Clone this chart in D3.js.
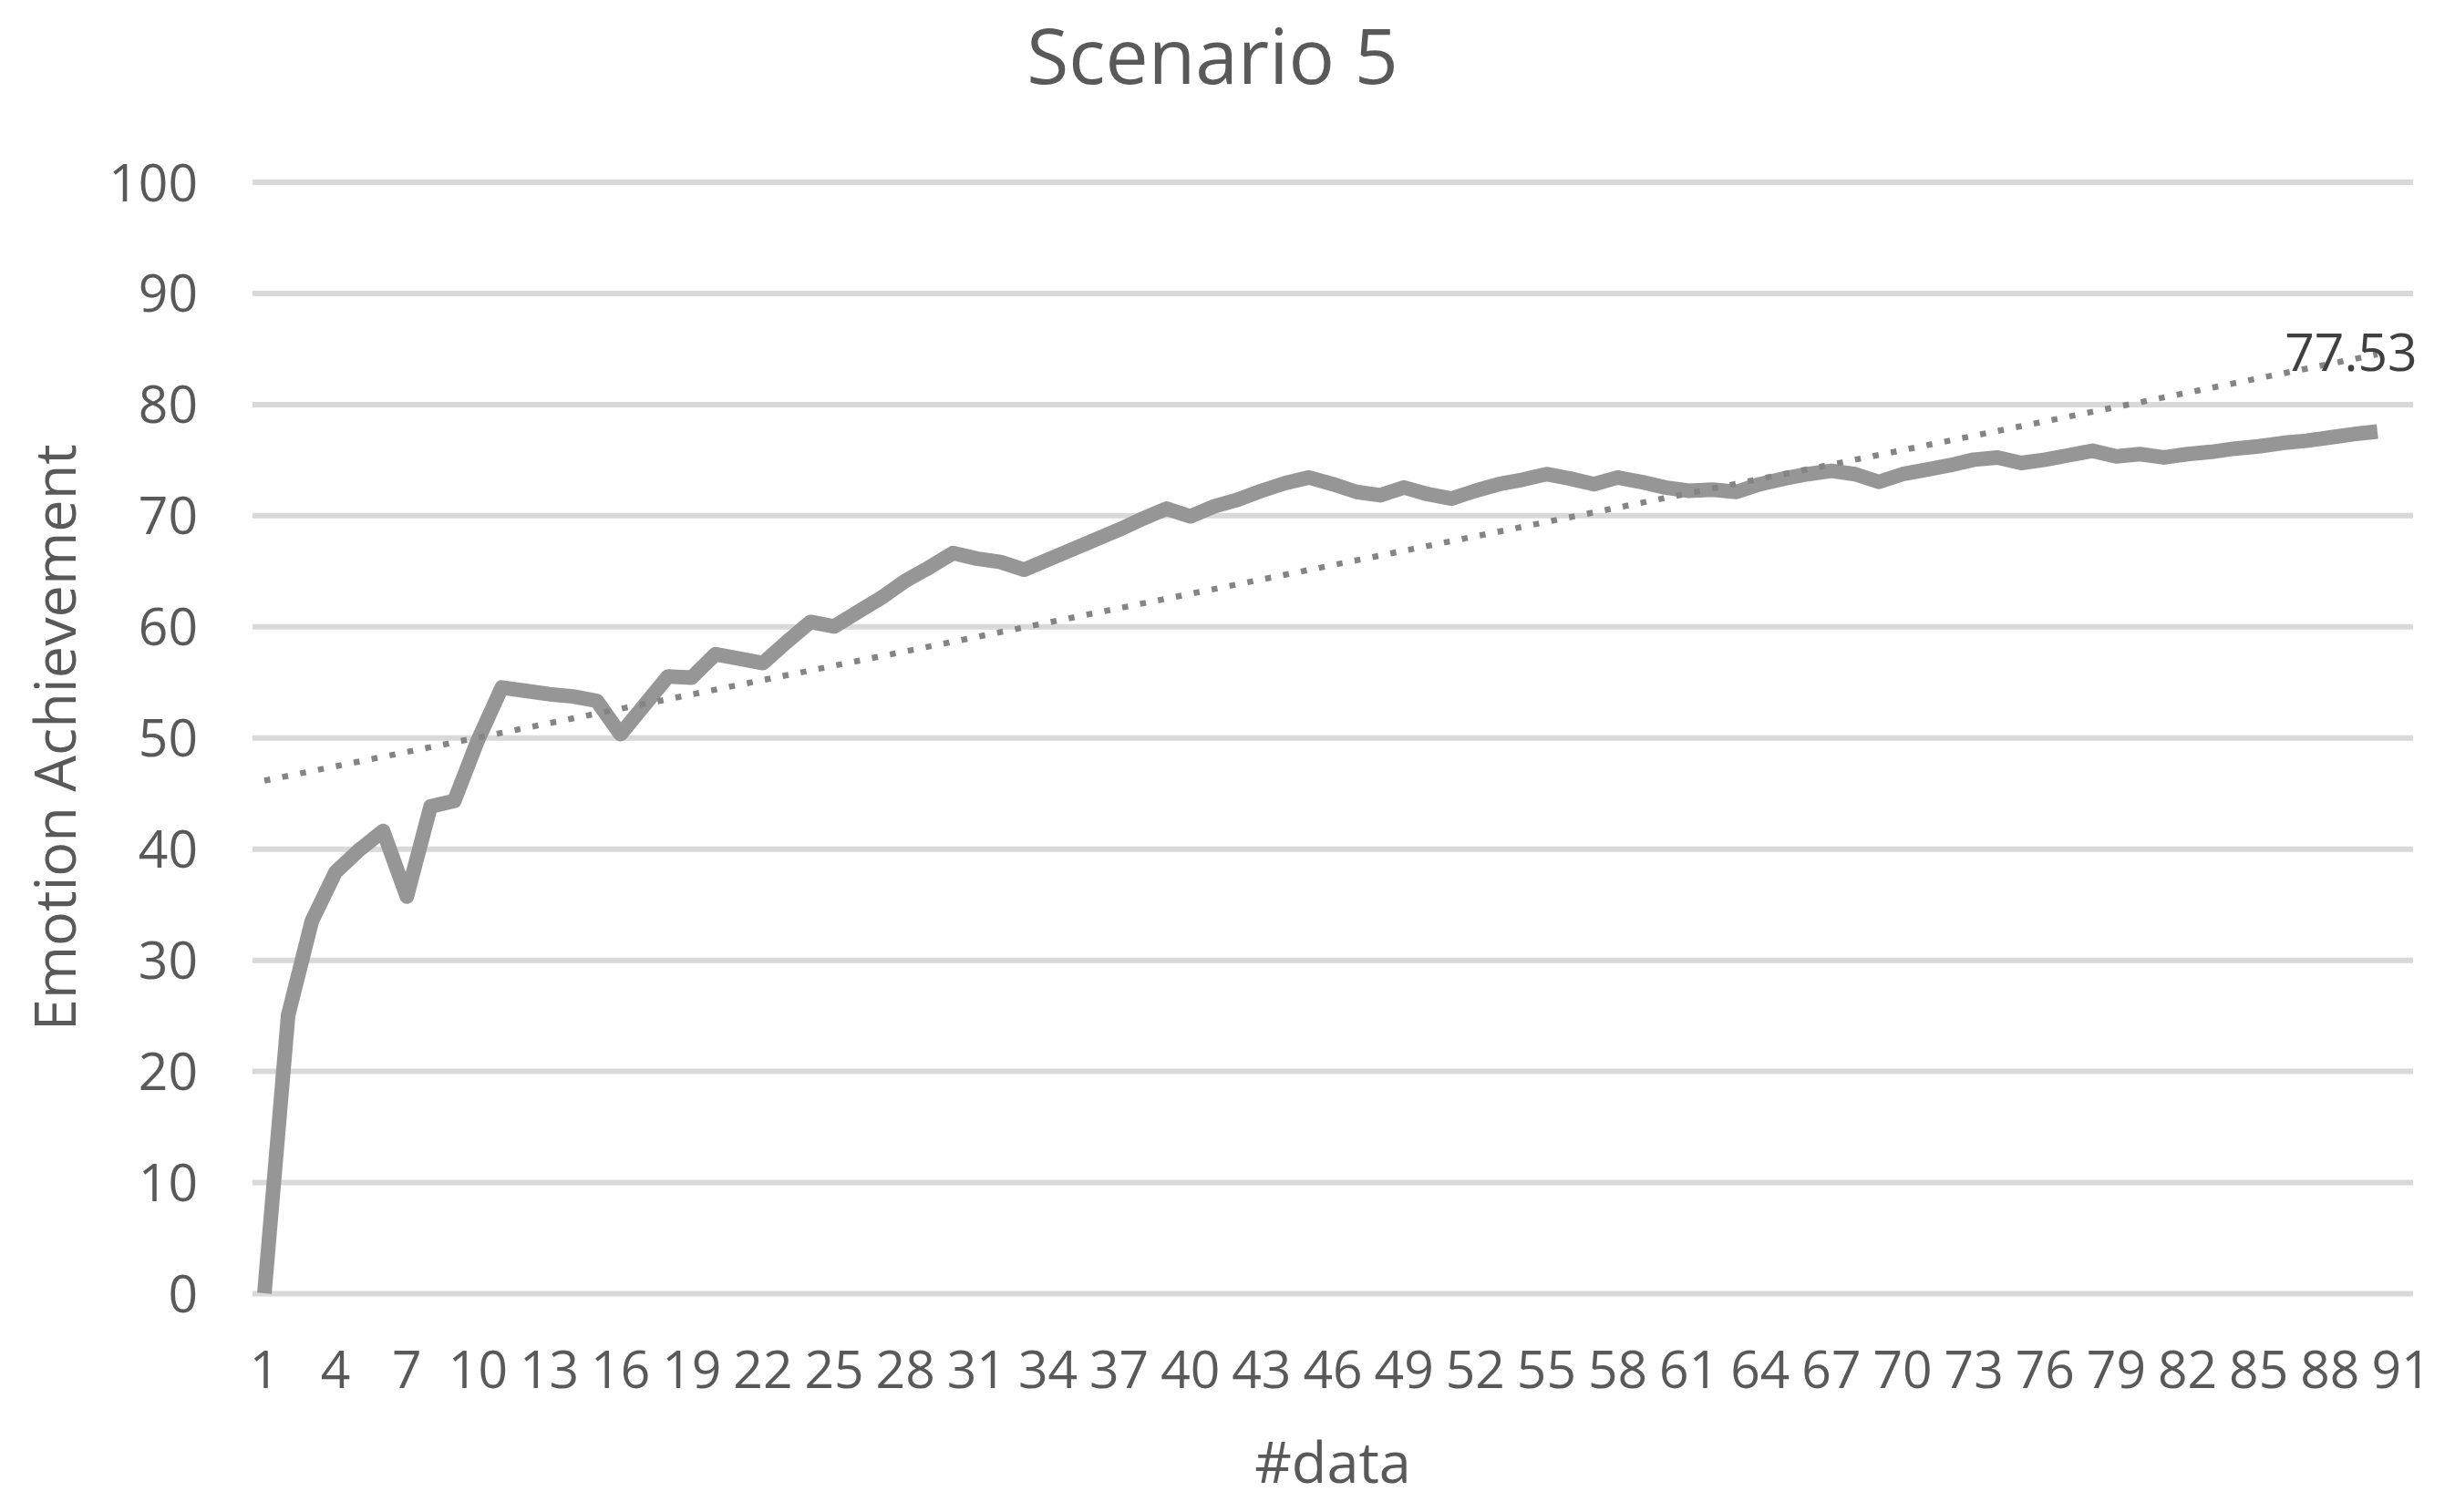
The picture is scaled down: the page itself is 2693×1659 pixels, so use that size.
<!DOCTYPE html>
<html>
<head>
<meta charset="utf-8">
<script src="https://cdn.jsdelivr.net/npm/d3@7"></script>
<style>
  body { margin: 0; background: #fff; }
  text { font-family: "Open Sans", sans-serif; }
</style>
</head>
<body>
<div class="canvas"></div>
<script>
// data
const categories = d3.range(1, 92); // 1..91 on the category axis
const achievement = [
  0, 25, 33.5, 37.9, 39.9, 41.6, 35.7, 43.8, 44.3, 49.8,
  54.5, 54.2, 53.9, 53.7, 53.3, 50.3, 52.9, 55.5, 55.4, 57.5,
  57.1, 56.7, 58.6, 60.4, 60.0, 61.3, 62.6, 64.1, 65.3, 66.6,
  66.1, 65.8, 65.1, 66.0, 66.9, 67.8, 68.7, 69.7, 70.6, 69.9,
  70.8, 71.4, 72.2, 72.9, 73.4, 72.8, 72.1, 71.8, 72.5, 71.9,
  71.5, 72.2, 72.8, 73.2, 73.7, 73.3, 72.8, 73.4, 73.0, 72.5,
  72.2, 72.3, 72.1, 72.8, 73.3, 73.7, 74.0, 73.7, 73.0, 73.7,
  74.1, 74.5, 75.0, 75.2, 74.7, 75.0, 75.4, 75.8, 75.3, 75.5,
  75.2, 75.5, 75.7, 76.0, 76.2, 76.5, 76.7, 77.0, 77.3, 77.53
];
const yTicks = [0, 10, 20, 30, 40, 50, 60, 70, 80, 90, 100];
const xTickLabels = categories.filter((d) => (d - 1) % 3 === 0);
const lastLabel = "77.53";

const W = 2693, H = 1659;
const svg = d3
  .select(".canvas")
  .append("svg")
  .attr("width", W)
  .attr("height", H)
  .style("display", "block");

svg.append("rect").attr("width", W).attr("height", H).attr("fill", "#fff");

// plot area
const margin = { top: 199.5, right: 46, bottom: 240, left: 277 };
const graphWidth = W - margin.left - margin.right;
const graphHeight = H - margin.top - margin.bottom;

const graph = svg
  .append("g")
  .attr("transform", `translate(${margin.left},${margin.top})`);

const x = d3.scaleBand().domain(categories).range([0, graphWidth]);
const cx = (d) => x(d) + x.bandwidth() / 2;
const y = d3.scaleLinear().domain([0, 100]).range([graphHeight, 0]);

// gridlines + y labels
const yAxis = d3.axisLeft(y).tickValues(yTicks).tickSize(-graphWidth).tickPadding(60);
const yAxisGroup = graph.append("g").call(yAxis);
yAxisGroup.select(".domain").remove();
yAxisGroup.selectAll("line").attr("stroke", "#d9d9d9").attr("stroke-width", 6);
yAxisGroup
  .selectAll("text")
  .attr("fill", "#595959")
  .attr("font-size", 57)
  .attr("x", -60)
  .attr("dy", "0.36em");

// category axis labels
const xAxis = d3.axisBottom(x).tickValues(xTickLabels).tickSize(0).tickPadding(0);
const xAxisGroup = graph
  .append("g")
  .attr("transform", `translate(0, ${graphHeight})`)
  .call(xAxis);
xAxisGroup.select(".domain").remove();
xAxisGroup
  .selectAll("text")
  .attr("fill", "#595959")
  .attr("font-size", 57)
  .attr("dy", 0)
  .attr("y", 104);

// linear trendline (least squares)
const pts = achievement.map((v, i) => [i + 1, v]);
const n = pts.length;
const mx = d3.mean(pts, (p) => p[0]);
const my = d3.mean(pts, (p) => p[1]);
const slope =
  d3.sum(pts, (p) => (p[0] - mx) * (p[1] - my)) /
  d3.sum(pts, (p) => (p[0] - mx) * (p[0] - mx));
const intercept = my - slope * mx;
const trend = [1, n].map((i) => [i, intercept + slope * i]);

const line = d3
  .line()
  .x((d) => cx(d[0]))
  .y((d) => y(d[1]));

graph
  .append("path")
  .datum(pts)
  .attr("fill", "none")
  .attr("stroke", "#969696")
  .attr("stroke-width", 16)
  .attr("stroke-linejoin", "round")
  .attr("d", line);

graph
  .append("path")
  .datum(trend)
  .attr("fill", "none")
  .attr("stroke", "#848484")
  .attr("stroke-width", 6.5)
  .attr("stroke-dasharray", "6.5 13.5")
  .attr("d", line);

// value label on the last point
const last = pts[n - 1];
graph
  .append("text")
  .attr("x", cx(last[0]) - 29)
  .attr("y", y(last[1]) - 67)
  .attr("text-anchor", "middle")
  .attr("font-size", 57)
  .attr("fill", "#404040")
  .text(lastLabel);

// titles
svg
  .append("text")
  .attr("x", 1330)
  .attr("y", 92)
  .attr("text-anchor", "middle")
  .attr("font-size", 84)
  .attr("fill", "#595959")
  .text("Scenario 5");

svg
  .append("text")
  .attr("x", margin.left + graphWidth / 2)
  .attr("y", 1627)
  .attr("text-anchor", "middle")
  .attr("font-size", 63)
  .attr("fill", "#595959")
  .text("#data");

svg
  .append("text")
  .attr("transform", `translate(83, ${margin.top + graphHeight / 2}) rotate(-90)`)
  .attr("text-anchor", "middle")
  .attr("font-size", 63)
  .attr("fill", "#595959")
  .text("Emotion Achievement");
</script>
</body>
</html>
